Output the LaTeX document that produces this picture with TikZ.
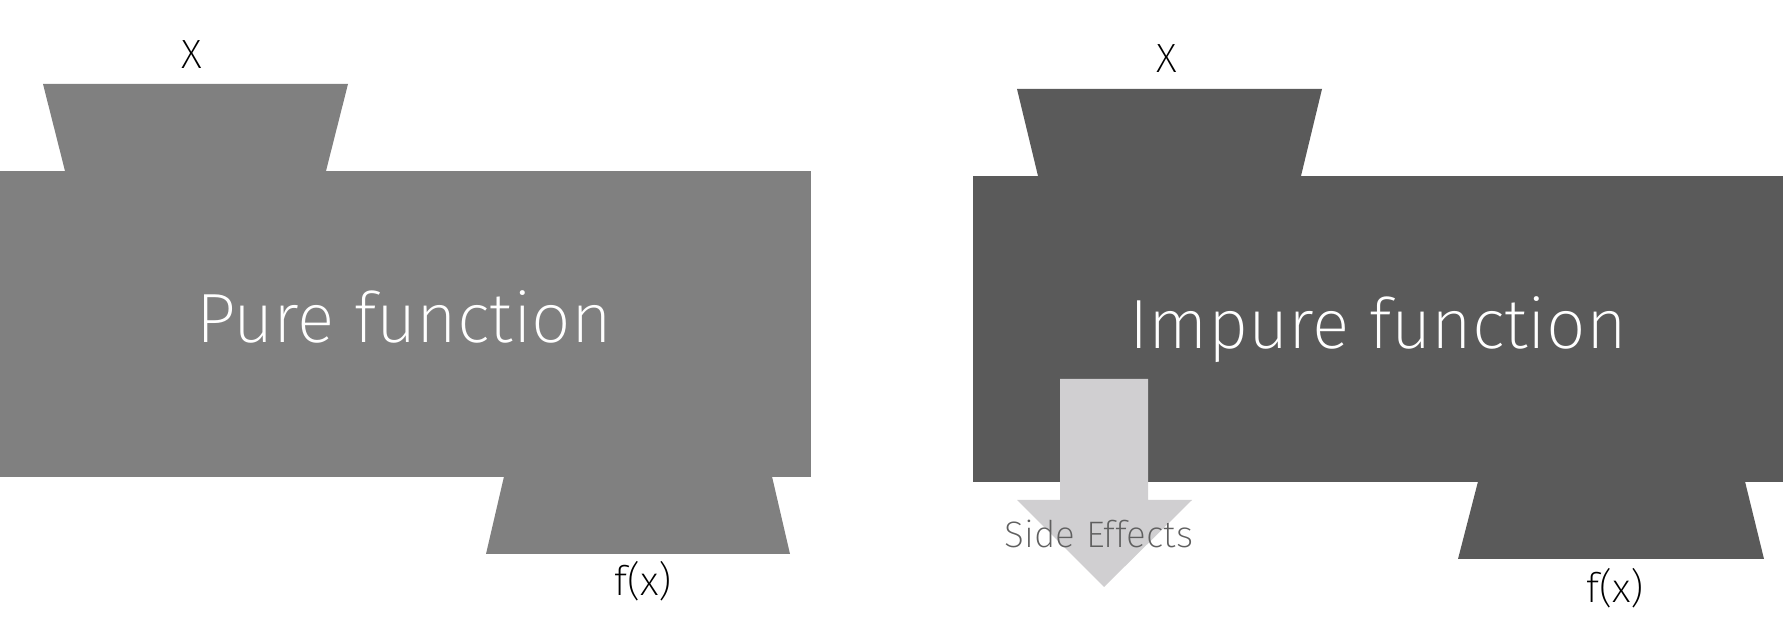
\documentclass[tikz,border=0pt]{standalone}
\usepackage{fontspec}
\setmainfont{Fira Sans}[UprightFont={* ExtraLight}]
\usetikzlibrary{positioning}

\definecolor{purefill}{HTML}{808080}
\definecolor{impurefill}{HTML}{5A5A5A}
\definecolor{sidefill}{HTML}{D0CFD1}
\definecolor{sidetext}{HTML}{5F5F5F}

\tikzset{
  label_io/.style={inner sep=0pt,anchor=base,font=\fontsize{41}{41}\selectfont},
  label_fn/.style={inner sep=0pt,anchor=base,text=white,font=\fontsize{70}{70}\selectfont},
}

\begin{document}
\begin{tikzpicture}[line join=miter]
\useasboundingbox (0bp,0bp) rectangle (1783bp,641bp);
%% pure function
\fill [purefill] (0bp,164bp) rectangle (811bp,470bp);
\fill [purefill] (65bp,470bp) -- (43bp,557bp) -- (348bp,557bp) -- (326bp,470bp) -- cycle;
\fill [purefill] (504bp,164.5bp) -- (772bp,164.5bp) -- (790bp,87bp) -- (486bp,87bp) -- cycle;
\node (pure_in) at (192bp,572bp) [label_io] {X};
\node (pure_out) at (643bp,45bp) [label_io] {f(x)};
\node (pure_name) at (404bp,298bp) [label_fn] {Pure function};
%% impure function
\fill [impurefill] (973bp,159bp) rectangle (1783bp,465bp);
\fill [impurefill] (1038bp,465bp) -- (1017bp,552bp) -- (1322bp,552bp) -- (1301bp,465bp) -- cycle;
\fill [impurefill] (1478bp,159.5bp) -- (1745bp,159.5bp) -- (1764bp,82bp) -- (1458bp,82bp) -- cycle;
\node (impure_in) at (1167bp,568bp) [label_io] {X};
\node (impure_out) at (1615bp,39bp) [label_io] {f(x)};
\node (impure_name) at (1378bp,292bp) [label_fn] {Impure function};
%% side effects
\fill [sidefill] (1060bp,262bp) -- (1148bp,262bp) -- (1148bp,141bp) -- (1192bp,141bp)
  -- (1104bp,54bp) -- (1017bp,141bp) -- (1060bp,141bp) -- cycle;
\node (side_fx) at (1099bp,93bp) [label_io,text=sidetext,font=\fontsize{37}{37}\selectfont] {Side Effects};
%
\end{tikzpicture}
\end{document}
